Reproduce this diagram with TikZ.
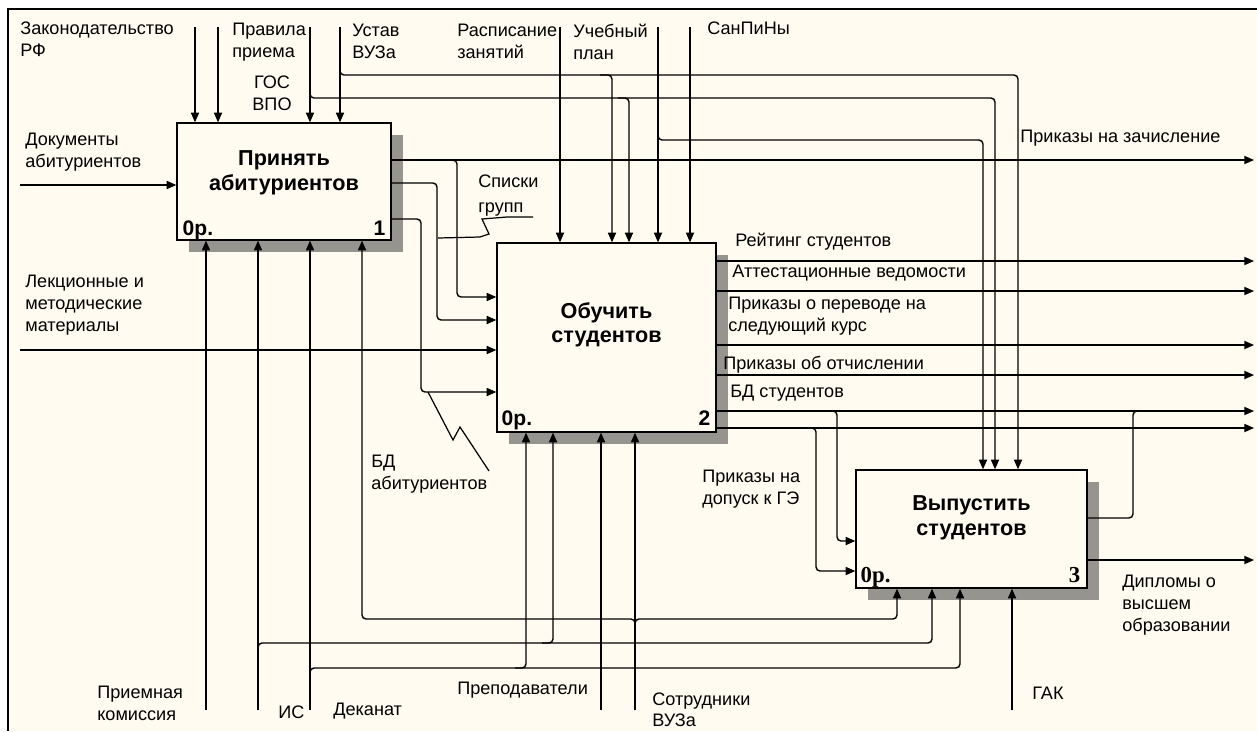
\documentclass[tikz,border=0pt]{standalone}
\usepackage{fontspec}
\setmainfont{Liberation Sans}
\newfontfamily\serifnumfont{Liberation Serif}
\usetikzlibrary{arrows.meta,shadows}
\definecolor{bgc}{RGB}{255,251,240}
\definecolor{shd}{RGB}{150,148,142}
\newcommand\labfont{\fontsize{10.3}{12.5}\selectfont}
\newcommand\ttlfont{\bfseries\fontsize{12.3}{14}\selectfont}
\newcommand\numfont{\bfseries\fontsize{12}{14}\selectfont}
\begin{document}
\begin{tikzpicture}[x=0.02cm,y=-0.02cm,
  flow/.style={draw, line width=0.8pt, rounded corners=2.3pt},
  arr/.style={flow, -{Triangle[length=5.5pt,width=4.6pt]}},
  squig/.style={draw, line width=0.7pt},
  lab/.style={anchor=north west, inner sep=0pt, align=left, font=\labfont},
  proc/.style={draw, fill=bgc, line width=0.8pt, inner sep=0pt,
    general shadow={fill=shd, shadow xshift=0.24cm, shadow yshift=-0.24cm}},
  ttl/.style={align=center, inner sep=0pt, font=\ttlfont},
  nsw/.style={anchor=base west, inner sep=0pt, font=\numfont},
  nse/.style={anchor=base east, inner sep=0pt, font=\numfont}]
\useasboundingbox (0,0) rectangle (1257,731);
\fill[bgc] (8,9) rectangle (1257,731);
\draw[line width=1.3pt] (8,731) -- (8,9) -- (1257,9);

% boxes
\node[proc, minimum width=4.28cm, minimum height=2.34cm] (b1) at (284,181.5) {};
\node[proc, minimum width=4.38cm, minimum height=3.78cm] (b2) at (606.5,337.5) {};
\node[proc, minimum width=4.62cm, minimum height=2.36cm] (b3) at (971.5,529) {};

\node[ttl] (t1) at ([yshift=0.17cm]b1.center) {Принять\\абитуриентов};
\node[ttl] (t2) at ([yshift=0.25cm]b2.center) {Обучить\\студентов};
\node[ttl] (t3) at ([yshift=0.22cm]b3.center) {Выпустить\\студентов};

\node[nsw] (n1a) at ([xshift=0.12cm,yshift=0.1cm]b1.south west) {0р.};
\node[nse] (n1b) at ([xshift=-0.12cm,yshift=0.1cm]b1.south east) {1};
\node[nsw] (n2a) at ([xshift=0.1cm,yshift=0.14cm]b2.south west) {0р.};
\node[nse] (n2b) at ([xshift=-0.12cm,yshift=0.14cm]b2.south east) {2};
\node[nsw, font=\serifnumfont\bfseries\fontsize{13}{15}\selectfont] (n3a) at ([xshift=0.1cm,yshift=0.12cm]b3.south west) {0р.};
\node[nse, font=\serifnumfont\bfseries\fontsize{13}{15}\selectfont] (n3b) at ([xshift=-0.14cm,yshift=0.12cm]b3.south east) {3};

% free ends
\coordinate (zak) at (195,27);
\coordinate (prv) at (218,27);
\coordinate (gos) at (310,27);
\coordinate (ust) at (340,27);
\coordinate (rsp) at (560,27);
\coordinate (uch) at (658,27);
\coordinate (snp) at (690,27);
\coordinate (doc) at (20,185);
\coordinate (lek) at (20,350);
\coordinate (ozach) at (1254,160);
\coordinate (orej) at (1254,261);
\coordinate (oatt) at (1254,291);
\coordinate (oper) at (1254,345);
\coordinate (ootc) at (1254,375);
\coordinate (obds) at (1254,411);
\coordinate (odop) at (1254,428);
\coordinate (odip) at (1254,560);
\coordinate (mpk) at (206,710);
\coordinate (mis) at (258,710);
\coordinate (mdek) at (310,710);
\coordinate (mprep) at (601,710);
\coordinate (msotr) at (635,710);
\coordinate (mgak) at (1012,710);

% controls
\draw[arr] (zak) -- (zak |- b1.north);
\draw[arr] (prv) -- (prv |- b1.north);
\draw[arr] (gos) -- (gos |- b1.north);
\draw[arr] (ust) -- (ust |- b1.north);
\draw[arr] (310,88) -- (310,98) -- (995,98) -- (995,0 |- b3.north);
\draw[arr] (340,66) -- (340,75) -- (1018,75) -- (1018,0 |- b3.north);
\draw[arr] (rsp) -- (rsp |- b2.north);
\draw[arr] (600,75) -- (612,75) -- (612,0 |- b2.north);
\draw[arr] (618,98) -- (629,98) -- (629,0 |- b2.north);
\draw[arr] (uch) -- (uch |- b2.north);
\draw[arr] (snp) -- (snp |- b2.north);
\draw[arr] (658,131) -- (658,140) -- (983,140) -- (983,0 |- b3.north);

% inputs
\draw[arr] (doc) -- (doc -| b1.west);
\draw[arr] (lek) -- (lek -| b2.west);

% outputs of box 1
\draw[arr] (b1.east |- ozach) -- (ozach);
\draw[arr] (446,160) -- (457,160) -- (457,297) -- (b2.west |- 0,297);
\draw[arr] (b1.east |- 0,183) -- (437,183) -- (437,320) -- (b2.west |- 0,320);
\draw[arr] (b1.east |- 0,219) -- (421,219) -- (421,392) -- (b2.west |- 0,392);

% outputs of box 2
\draw[arr] (b2.east |- orej) -- (orej);
\draw[arr] (b2.east |- oatt) -- (oatt);
\draw[arr] (b2.east |- oper) -- (oper);
\draw[arr] (b2.east |- ootc) -- (ootc);
\draw[arr] (b2.east |- obds) -- (obds);
\draw[arr] (b2.east |- odop) -- (odop);
\draw[arr] (826,411) -- (837,411) -- (837,541) -- (b3.west |- 0,541);
\draw[arr] (805,428) -- (816,428) -- (816,571) -- (b3.west |- 0,571);

% outputs of box 3
\draw[flow] (b3.east |- 0,518) -- (1133,518) -- (1133,411) -- (1144,411);
\draw[arr] (b3.east |- odip) -- (odip);

% mechanisms
\draw[arr] (mpk) -- (mpk |- b1.south);
\draw[arr] (mis) -- (mis |- b1.south);
\draw[arr] (mdek) -- (mdek |- b1.south);
\draw[arr] (mprep) -- (mprep |- b2.south);
\draw[arr] (msotr) -- (msotr |- b2.south);
\draw[arr] (mgak) -- (mgak |- b3.south);
\draw[arr] (258,652) -- (258,643) -- (932,643) -- (932,0 |- b3.south);
\draw[arr] (542,643) -- (553,643) -- (553,0 |- b2.south);
\draw[arr] (310,677) -- (310,668) -- (960,668) -- (960,0 |- b3.south);
\draw[arr] (515,668) -- (526,668) -- (526,0 |- b2.south);
\draw[arr] (635,628) -- (635,619) -- (362,619) -- (362,0 |- b1.south);
\draw[arr] (635,628) -- (635,619) -- (897,619) -- (897,0 |- b3.south);

% squiggles
\draw[squig] (438,238) -- (480,237) -- (489,234) -- (482,219) -- (507,217) -- (533,217);
\draw[squig] (428,392) -- (453,440) -- (460,427) -- (489,471);

% labels
\node[lab] (lzak) at (20,22) {Законодательство\\РФ};
\node[lab] (lprv) at (232,23) {Правила\\приема};
\node[lab, anchor=north, align=center, font=\fontsize{10.3}{12}\selectfont] (lgos) at (272,76) {ГОС\\ВПО};
\node[lab] (lust) at (352,24) {Устав\\ВУЗа};
\node[lab] (ldoc) at (25,133) {Документы\\абитуриентов};
\node[lab] (lrsp) at (457,24) {Расписание\\занятий};
\node[lab] (luch) at (573,24) {Учебный\\план};
\node[lab] (lsnp) at (707,22) {СанПиНы};
\node[lab] (lzach) at (1020,130) {Приказы на зачисление};
\node[lab, font=\fontsize{10.3}{14.2}\selectfont] (lspis) at (478,175) {Списки\\групп};
\node[lab] (llek) at (25,275) {Лекционные и\\методические\\материалы};
\node[lab] (lbda) at (371,455) {БД\\абитуриентов};
\node[lab] (lrej) at (735,233) {Рейтинг студентов};
\node[lab] (latt) at (732,265) {Аттестационные ведомости};
\node[lab] (lper) at (728,297) {Приказы о переводе на\\следующий курс};
\node[lab] (lotc) at (723,356) {Приказы об отчислении};
\node[lab] (lbds) at (730,385) {БД студентов};
\node[lab] (ldop) at (702,470) {Приказы на\\допуск к ГЭ};
\node[lab] (ldip) at (1122,575) {Дипломы о\\высшем\\образовании};
\node[lab] (lgak) at (1032,687) {ГАК};
\node[lab] (lpk) at (97,686) {Приемная\\комиссия};
\node[lab] (lis) at (278,705) {ИС};
\node[lab] (ldek) at (333,703) {Деканат};
\node[lab] (lprep) at (457,682) {Преподаватели};
\node[lab] (lsotr) at (652,692) {Сотрудники\\ВУЗа};
\end{tikzpicture}
\end{document}
